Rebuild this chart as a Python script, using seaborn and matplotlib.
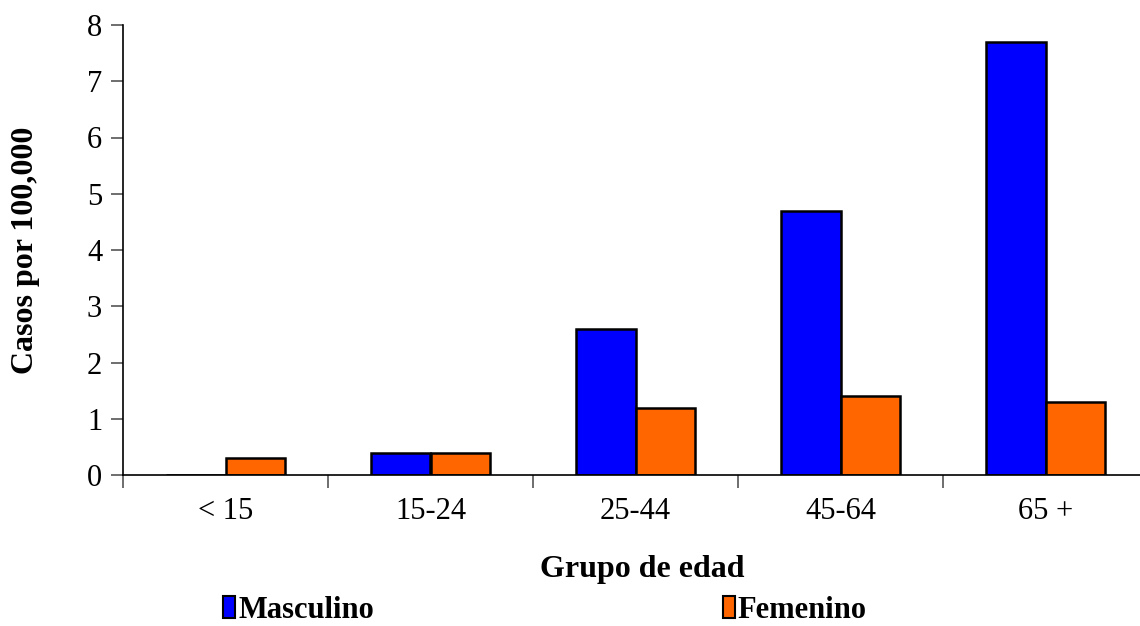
import numpy as np
import pandas as pd
import matplotlib
matplotlib.use("Agg")
import matplotlib.pyplot as plt
import seaborn as sns

sns.set_style("white")
plt.rcParams["font.family"] = ["Liberation Serif", "DejaVu Serif"]
plt.rcParams["text.color"] = "black"
plt.rcParams["axes.labelcolor"] = "black"
plt.rcParams["xtick.labelcolor"] = "black"
plt.rcParams["ytick.labelcolor"] = "black"

grupos = ["< 15", "15-24", "25-44", "45-64", "65 +"]
masculino = [0.0, 0.4, 2.6, 4.7, 7.7]
femenino = [0.3, 0.4, 1.2, 1.4, 1.3]
series = ["Masculino", "Femenino"]
colores = ["#0000FF", "#FF6600"]

df = pd.DataFrame({
  "grupo": grupos * 2,
  "casos": masculino + femenino,
  "sexo": [series[0]] * len(grupos) + [series[1]] * len(grupos),
})

dpi = 100
fig = plt.figure(figsize=(1140 / dpi, 626 / dpi), dpi=dpi)
# axes box in pixel terms: left 123, right 1148, y0 at 475, y8 at 25
ax = fig.add_axes([123 / 1140, 1 - 475 / 626, 1025 / 1140, 450 / 626])

sns.barplot(data=df, x="grupo", y="casos", hue="sexo", order=grupos,
            hue_order=series, palette=colores, width=0.58,
            edgecolor="black", linewidth=1.8, saturation=1, ax=ax, legend=False)

ax.set_xlim(-0.5, 4.5)
ax.set_ylim(0, 8)
ax.set_yticks(range(0, 9))
ax.tick_params(axis="y", which="major", direction="out", length=9, width=1.2,
               labelsize=22, pad=6, left=True, color="#555555")
ax.set_xticks(np.arange(-0.5, 5.0, 1.0), minor=True)
ax.tick_params(axis="x", which="major", length=0, labelsize=22, pad=16)
ax.tick_params(axis="x", which="minor", direction="out", length=9, width=1.2,
               bottom=True, color="#555555")

for s in ["top", "right"]:
  ax.spines[s].set_visible(False)
for s in ["left", "bottom"]:
  ax.spines[s].set_color("black")
  ax.spines[s].set_linewidth(1.2)

ax.set_xlabel("Grupo de edad", fontsize=23, fontweight="bold")
ax.xaxis.set_label_coords((642 - 123) / 1025, -(570 - 475) / 450)
ax.set_ylabel("Casos por 100,000", fontsize=23, fontweight="bold")
ax.yaxis.set_label_coords(-(123 - 26) / 1025, 0.5)
ax.yaxis.label.set_va("center")
ax.xaxis.label.set_va("center")

handles = [plt.Rectangle((0, 0), 1, 1, facecolor=c, edgecolor="black", linewidth=1.5)
           for c in colores]
fig.legend(handles, series, loc="center", bbox_to_anchor=(545 / 1140, 1 - 610 / 626),
           ncol=2, frameon=False, handlelength=0.4, handleheight=0.7,
           handletextpad=0.1, columnspacing=11.4,
           prop={"size": 22, "weight": "bold"})

fig.savefig("out.png", dpi=dpi)
